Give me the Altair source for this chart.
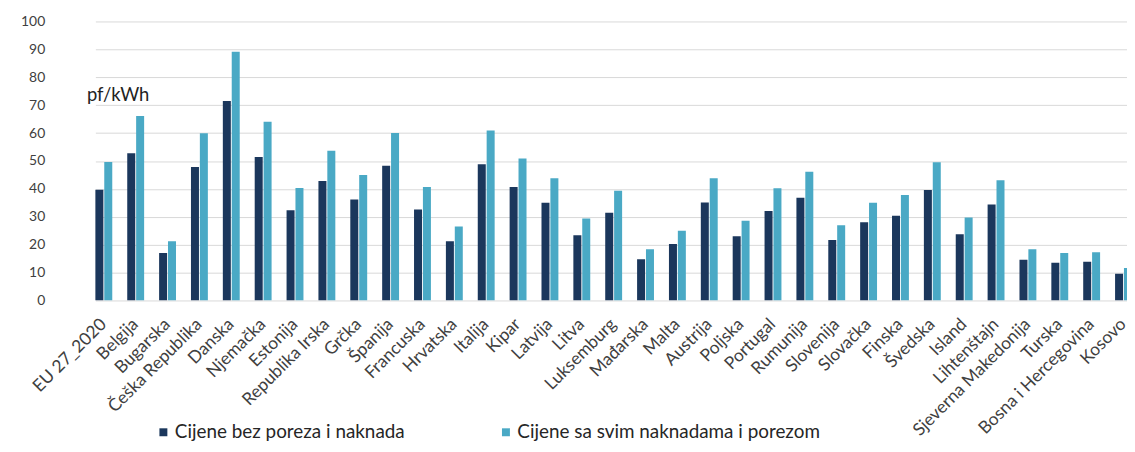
import altair as alt
import pandas as pd

categories = ["EU 27_2020", "Belgija", "Bugarska", "Češka Republika", "Danska", "Njemačka",
              "Estonija", "Republika Irska", "Grčka", "Španija", "Francuska", "Hrvatska",
              "Italija", "Kipar", "Latvija", "Litva", "Luksemburg", "Mađarska", "Malta",
              "Austrija", "Poljska", "Portugal", "Rumunija", "Slovenija", "Slovačka",
              "Finska", "Švedska", "Island", "Lihtenštajn", "Sjeverna Makedonija",
              "Turska", "Bosna i Hercegovina", "Kosovo"]
bez = [39.7, 52.8, 17.0, 47.8, 71.5, 51.4, 32.3, 42.8, 36.2, 48.3, 32.6, 21.2,
       48.8, 40.7, 35.0, 23.4, 31.4, 14.8, 20.2, 35.1, 23.0, 32.1, 36.8, 21.7,
       28.0, 30.4, 39.6, 23.7, 34.4, 14.6, 13.5, 13.9, 9.6]
sa = [49.6, 66.1, 21.2, 59.9, 89.1, 64.1, 40.3, 53.7, 45.0, 60.0, 40.7, 26.5,
      60.9, 50.9, 43.8, 29.4, 39.3, 18.4, 25.0, 43.8, 28.6, 40.2, 46.1, 27.0,
      35.0, 37.8, 49.5, 29.7, 43.1, 18.4, 17.0, 17.3, 11.6]
series = ["Cijene bez poreza i naknada", "Cijene sa svim naknadama i porezom"]
colors = ["#1b375c", "#4aa9c5"]
y_ticks = list(range(0, 101, 10))

rows = []
for c, a, b in zip(categories, bez, sa):
    rows.append({"zemlja": c, "serija": series[0], "vrijednost": a})
    rows.append({"zemlja": c, "serija": series[1], "vrijednost": b})
df = pd.DataFrame(rows)

font = "Lato"

chart = alt.Chart(df).mark_bar(clip=True).encode(
    x=alt.X("zemlja:N", sort=categories,
            scale=alt.Scale(range=[41, 1085], paddingInner=0.47, paddingOuter=0),
            axis=alt.Axis(title=None, labelAngle=-45, labelAlign="right", labelBaseline="middle",
                          labelFontSize=17.5, labelColor="#404040", labelFont=font,
                          ticks=False, domain=False, labelPadding=21, labelOverlap=False,
                          labelLimit=0)),
    xOffset=alt.XOffset("serija:N", sort=series, scale=alt.Scale(paddingInner=0.1)),
    y=alt.Y("vrijednost:Q", scale=alt.Scale(domain=[0, 100], nice=False),
            axis=alt.Axis(values=y_ticks, title="pf/kWh", titleAngle=0, titleX=32, titleY=74,
                          titleAlign="left", titleBaseline="middle", titleFontSize=18.5,
                          titleFontWeight="normal", titleColor="#222222", titleFont=font,
                          labelFontSize=14, labelColor="#404040", labelFont=font,
                          labelPadding=10, ticks=False, domain=False,
                          gridColor="#d9d9d9", gridWidth=1)),
    color=alt.Color("serija:N", sort=series,
                    scale=alt.Scale(domain=series, range=colors),
                    legend=alt.Legend(title=None, orient="none", legendX=100, legendY=404,
                                      direction="horizontal", columnPadding=92,
                                      symbolType="square", symbolSize=64, symbolStrokeWidth=0,
                                      labelFontSize=19, labelColor="#262626", labelFont=font,
                                      labelOffset=2, labelLimit=0)),
).properties(
    width=1080, height=281,
    padding={"left": 47, "top": 12, "right": 0, "bottom": 143},
    autosize=alt.AutoSizeParams(type="none"),
    background="white",
).configure_view(stroke=None)

chart.save("out.html", embed_options={"renderer": "svg", "actions": False})
